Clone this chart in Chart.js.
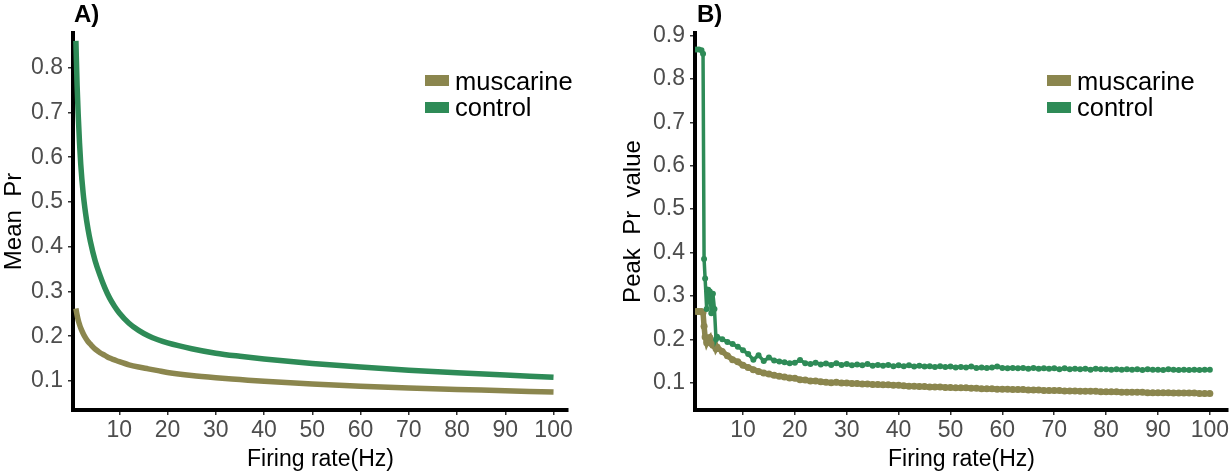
<!DOCTYPE html>
<html>
<head>
<meta charset="utf-8">
<script src="https://cdn.jsdelivr.net/npm/chart.js@4.4.0/dist/chart.umd.min.js"></script>
<style>
body{margin:0;background:#fff;font-family:"Liberation Sans",Arial,sans-serif;}
#wrap{position:relative;width:1232px;height:473px;overflow:hidden;}
.panel{position:absolute;top:0;width:616px;height:473px;}
.tag{position:absolute;top:2px;font-weight:bold;font-size:24px;line-height:24px;}
.box{position:absolute;width:24px;height:11px;}
.lbl{position:absolute;font-size:25.5px;line-height:24px;color:#000;}
</style>
</head>
<body>
<div id="wrap">
  <div class="panel" style="left:0"><canvas id="chartA"></canvas></div>
  <div class="panel" style="left:616px"><canvas id="chartB"></canvas></div>
  <div class="tag" style="left:74px">A)</div>
  <div class="tag" style="left:697px">B)</div>
  <div class="box" style="left:425px;top:75px;background:#8B864E"></div>
  <div class="lbl" style="left:455px;top:69px">muscarine</div>
  <div class="box" style="left:425px;top:102px;background:#2E8B57"></div>
  <div class="lbl" style="left:455px;top:95px">control</div>
  <div class="box" style="left:1047px;top:75px;background:#8B864E"></div>
  <div class="lbl" style="left:1077px;top:69px">muscarine</div>
  <div class="box" style="left:1047px;top:102px;background:#2E8B57"></div>
  <div class="lbl" style="left:1077px;top:95px">control</div>
</div>
<script>
// panel A: mean Pr, smooth curves
let aRate = [1, 1.25, 1.5, 1.75, 2, 2.5, 3, 3.5, 4, 5, 6, 7, 8, 9, 10, 12, 14, 16, 18, 20, 25, 30, 35, 40, 50, 60, 70, 80, 90, 100];
let aControl = [0.86, 0.76, 0.69, 0.632, 0.585, 0.52, 0.475, 0.44, 0.412, 0.368, 0.336, 0.308, 0.285, 0.267, 0.252,
  0.229, 0.213, 0.201, 0.192, 0.185, 0.172, 0.162, 0.155, 0.149, 0.139, 0.131, 0.124, 0.118, 0.113, 0.108];
let aMuscarine = [0.262, 0.247, 0.235, 0.226, 0.218, 0.206, 0.196, 0.188, 0.182, 0.171, 0.163, 0.157, 0.151, 0.147, 0.143,
  0.136, 0.131, 0.127, 0.123, 0.119, 0.112, 0.107, 0.103, 0.099, 0.093, 0.088, 0.084, 0.081, 0.078, 0.075];

// panel B: peak Pr value, noisy
let bRate = [1, 1.5, 2, 2.3, 2.5, 2.7, 3, 3.3, 3.6, 3.9, 4.2, 4.5, 4.8,
  5, 6, 7, 8, 9, 10, 11, 12, 13, 14, 15, 16, 17, 18, 19, 20,
  21, 22, 23, 24, 25, 26, 27, 28, 29, 30, 31, 32, 33, 34, 35, 36, 37, 38, 39, 40,
  41, 42, 43, 44, 45, 46, 47, 48, 49, 50, 51, 52, 53, 54, 55, 56, 57, 58, 59, 60,
  61, 62, 63, 64, 65, 66, 67, 68, 69, 70, 71, 72, 73, 74, 75, 76, 77, 78, 79, 80,
  81, 82, 83, 84, 85, 86, 87, 88, 89, 90, 91, 92, 93, 94, 95, 96, 97, 98, 99, 100];
let bControl = [0.868, 0.868, 0.866, 0.858, 0.385, 0.34, 0.27, 0.314, 0.31, 0.26, 0.305, 0.27, 0.2,
  0.206, 0.2, 0.194, 0.189, 0.183, 0.175, 0.166, 0.153, 0.163, 0.15, 0.158, 0.151, 0.149, 0.147, 0.145, 0.146,
  0.152, 0.145, 0.143, 0.146, 0.142, 0.144, 0.141, 0.145, 0.141, 0.143, 0.14, 0.142, 0.14, 0.143, 0.139, 0.141, 0.139, 0.141, 0.138, 0.14,
  0.138, 0.14, 0.137, 0.139, 0.137, 0.138, 0.136, 0.138, 0.136, 0.137, 0.135, 0.136, 0.135, 0.137, 0.134, 0.135, 0.134, 0.135, 0.137, 0.134,
  0.133, 0.134, 0.133, 0.134, 0.132, 0.134, 0.132, 0.133, 0.132, 0.133, 0.131, 0.133, 0.131, 0.132, 0.131, 0.132, 0.13, 0.132, 0.131, 0.131,
  0.13, 0.131, 0.13, 0.131, 0.13, 0.131, 0.129, 0.131, 0.13, 0.13, 0.129, 0.131, 0.13, 0.129, 0.13, 0.129, 0.13, 0.129, 0.13, 0.13];
let bMuscarine = [0.264, 0.264, 0.264, 0.262, 0.23, 0.205, 0.192, 0.2, 0.204, 0.19, 0.186, 0.19, 0.178,
  0.182, 0.172, 0.162, 0.153, 0.148, 0.14, 0.135, 0.13, 0.126, 0.122, 0.12, 0.117, 0.115, 0.113, 0.111, 0.11,
  0.107, 0.106, 0.104, 0.104, 0.102, 0.101, 0.1, 0.101, 0.099, 0.099, 0.098, 0.098, 0.097, 0.097, 0.096, 0.096, 0.095, 0.095, 0.094, 0.094,
  0.093, 0.092, 0.092, 0.091, 0.091, 0.09, 0.09, 0.09, 0.089, 0.089, 0.088, 0.088, 0.088, 0.087, 0.087, 0.086, 0.086, 0.086, 0.085, 0.085,
  0.085, 0.084, 0.084, 0.084, 0.083, 0.083, 0.083, 0.082, 0.082, 0.082, 0.082, 0.081, 0.081, 0.081, 0.08, 0.08, 0.08, 0.08, 0.079, 0.079,
  0.079, 0.079, 0.078, 0.078, 0.078, 0.078, 0.078, 0.077, 0.077, 0.077, 0.077, 0.077, 0.076, 0.076, 0.076, 0.076, 0.076, 0.075, 0.075, 0.075];

let xTicks = [10, 20, 30, 40, 50, 60, 70, 80, 90, 100];
let yTicksA = [0.1, 0.2, 0.3, 0.4, 0.5, 0.6, 0.7, 0.8];
let yTicksB = [0.1, 0.2, 0.3, 0.4, 0.5, 0.6, 0.7, 0.8, 0.9];

const olive = "#8B864E";
const green = "#2E8B57";

Chart.defaults.font.family = "'Liberation Sans', Arial, sans-serif";
Chart.defaults.animation = false;

function pts(xs, ys){
    return xs.map((x, i) => ({x: x, y: ys[i]}));
}

// axis styling shared by both panels, ggplot-ish: thick black axis lines, small tick marks
function makeScales(xmin, xmax, ymin, ymax, yTicks, yTitle, yWidth, yTitlePad){
    return {
        x: {
            type: "linear", min: xmin, max: xmax,
            afterBuildTicks: s => { s.ticks = xTicks.map(v => ({value: v})); },
            afterFit: s => { s.height = 63; },
            grid: {display: true, drawOnChartArea: false, drawTicks: true, tickLength: 5, color: "#333", lineWidth: 1.5},
            border: {display: true, color: "#000", width: 4},
            ticks: {color: "#4d4d4d", font: {size: 23}, padding: 2, maxRotation: 0},
            title: {display: true, text: "Firing rate(Hz)", color: "#000", font: {size: 23}, padding: {top: 0, bottom: 0}}
        },
        y: {
            type: "linear", min: ymin, max: ymax,
            afterBuildTicks: s => { s.ticks = yTicks.map(v => ({value: v})); },
            afterFit: s => { s.width = yWidth; },
            grid: {display: true, drawOnChartArea: false, drawTicks: true, tickLength: 5, color: "#333", lineWidth: 1.5},
            border: {display: true, color: "#000", width: 4},
            ticks: {color: "#4d4d4d", font: {size: 23}, padding: 5, callback: v => Number(v).toFixed(1)},
            title: {display: true, text: yTitle, color: "#000", font: {size: 24}, padding: {top: yTitlePad, bottom: 0}}
        }
    };
}

new Chart(document.getElementById("chartA"), {
    type: "line",
    data: {
        datasets: [{
            label: "muscarine",
            data: pts(aRate, aMuscarine),
            borderColor: olive,
            borderWidth: 5.5,
            pointRadius: 0,
            cubicInterpolationMode: "monotone"
        },{
            label: "control",
            data: pts(aRate, aControl),
            borderColor: green,
            borderWidth: 5.5,
            pointRadius: 0,
            cubicInterpolationMode: "monotone"
        }]
    },
    options: {
        responsive: true,
        maintainAspectRatio: false,
        layout: {padding: {top: 33, right: 48, bottom: 0, left: 0}},
        plugins: {legend: {display: false}, tooltip: {enabled: false}},
        scales: makeScales(0.4, 103, 0.035, 0.8775, yTicksA, "Mean  Pr", 73, 0)
    }
});

new Chart(document.getElementById("chartB"), {
    type: "line",
    data: {
        datasets: [{
            label: "control",
            data: pts(bRate, bControl),
            borderColor: green,
            backgroundColor: green,
            borderWidth: 3.5,
            pointRadius: 3,
            pointBorderWidth: 0,
            tension: 0
        },{
            label: "muscarine",
            data: pts(bRate, bMuscarine),
            borderColor: olive,
            backgroundColor: olive,
            borderWidth: 5.5,
            pointRadius: 3.5,
            pointBorderWidth: 0,
            tension: 0
        }]
    },
    options: {
        responsive: true,
        maintainAspectRatio: false,
        layout: {padding: {top: 33, right: 4, bottom: 0, left: 0}},
        plugins: {legend: {display: false}, tooltip: {enabled: false}},
        scales: makeScales(0.75, 103.5, 0.037, 0.906, yTicksB, "Peak  Pr  value", 79, 3)
    }
});
</script>
</body>
</html>
